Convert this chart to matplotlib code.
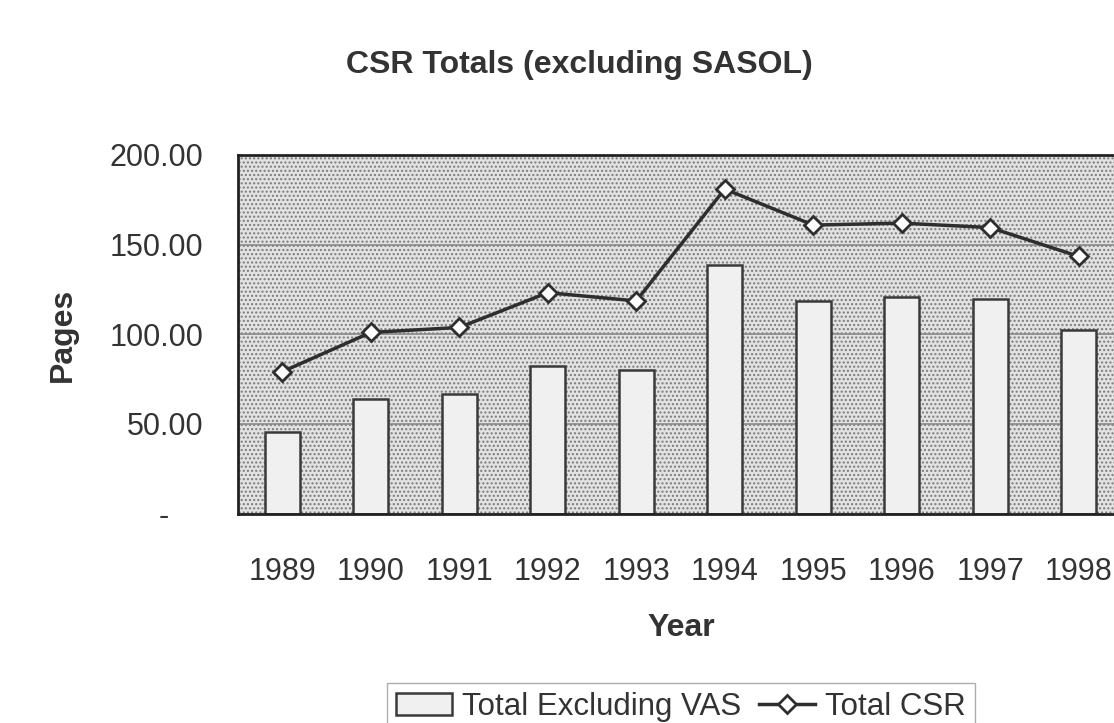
import numpy as np
import matplotlib
matplotlib.use('Agg')
import matplotlib.pyplot as plt
from matplotlib.patches import Rectangle
from matplotlib.ticker import FuncFormatter

YEARS = ['1989', '1990', '1991', '1992', '1993', '1994', '1995', '1996', '1997', '1998']
TOTAL_EXCL_VAS = [45.6, 63.9, 66.8, 82.5, 79.9, 138.5, 118.6, 121.0, 119.9, 102.4]
TOTAL_CSR = [79.1, 101.0, 103.8, 123.2, 118.6, 181.0, 160.9, 162.0, 159.5, 143.4]
Y_TICKS = [0, 50, 100, 150, 200]

plt.rcParams['font.family'] = ['Liberation Sans', 'DejaVu Sans']
plt.rcParams['hatch.linewidth'] = 1.0

W, H = 1114, 723


def y_label(v, pos):
    if v == 0:
        return '-    '
    return f'{v:.2f}'


def main():
    fig = plt.figure(figsize=(W / 100, H / 100), dpi=100)
    ax = fig.add_axes([238 / W, 1 - 513.5 / H, 885 / W, 358.5 / H])

    # stippled grey plot area
    ax.patch.set_facecolor('#e2e2e2')
    bg = Rectangle((0, 0), 1, 1, transform=ax.transAxes, facecolor='none',
                   edgecolor='#7a7a7a', hatch='....', linewidth=0, zorder=0)
    ax.add_patch(bg)

    x = np.arange(len(YEARS))
    for yv in Y_TICKS[1:-1]:
        ax.axhline(yv, color='#8a8a8a', linewidth=1.2, zorder=1)

    ax.bar(x, TOTAL_EXCL_VAS, width=0.39, color='#f0f0f0', edgecolor='#3a3a3a',
           linewidth=1.8, zorder=2, label='Total Excluding VAS')
    ax.plot(x, TOTAL_CSR, color='#2e2e2e', linewidth=2.5, marker='D',
            markersize=9, markerfacecolor='white', markeredgecolor='#2e2e2e',
            markeredgewidth=2, zorder=3, label='Total CSR')

    ax.set_xlim(-0.5, len(YEARS) - 0.5)
    ax.set_ylim(0, 200)
    ax.set_yticks(Y_TICKS)
    ax.yaxis.set_major_formatter(FuncFormatter(y_label))
    ax.set_xticks(x)
    ax.set_xticklabels(YEARS)

    ax.tick_params(axis='y', length=0, pad=25, labelsize=22, labelcolor='#333333')
    ax.tick_params(axis='x', length=0, pad=31, labelsize=22, labelcolor='#333333')

    for side in ['left', 'top', 'bottom']:
        ax.spines[side].set_color('#222222')
        ax.spines[side].set_linewidth(2)
    ax.spines['right'].set_visible(False)

    fig.text(579 / W, 1 - 65 / H, 'CSR Totals (excluding SASOL)', ha='center',
             va='center', fontsize=23, fontweight='bold', color='#333333')
    fig.text(681 / W, 1 - 628 / H, 'Year', ha='center', va='center',
             fontsize=23, fontweight='bold', color='#333333')
    fig.text(63 / W, 1 - 335 / H, 'Pages', ha='center', va='center',
             rotation=90, fontsize=23, fontweight='bold', color='#333333')

    handles, labels = ax.get_legend_handles_labels()
    order = [1, 0]
    leg = fig.legend([handles[i] for i in order], [labels[i] for i in order],
                     loc='center', bbox_to_anchor=(681 / W, 1 - 707 / H), ncol=2,
                     frameon=True, fontsize=22.5, handlelength=1.8, handletextpad=0.32,
                     columnspacing=0.55, borderpad=0.3, fancybox=False)
    leg.get_frame().set_edgecolor('#999999')
    leg.get_frame().set_linewidth(1)
    for t in leg.get_texts():
        t.set_color('#333333')

    fig.savefig('out.png', dpi=100)


if __name__ == '__main__':
    main()
